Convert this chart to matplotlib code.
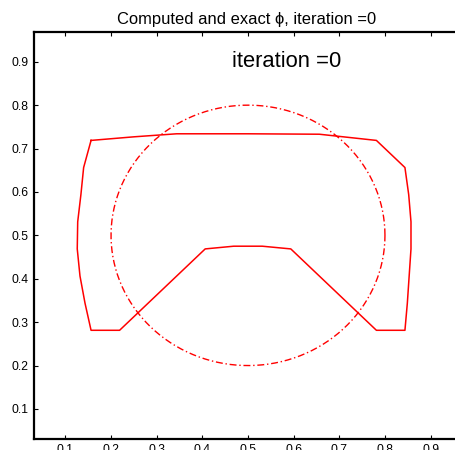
import numpy as np
import matplotlib
matplotlib.use("Agg")
import matplotlib.pyplot as plt

plt.rcParams['font.family'] = ['Liberation Sans', 'DejaVu Sans']

# Computed interface (closed polygon)
comp_x = [0.15625, 0.25, 0.34375, 0.50, 0.65625, 0.78125,
          0.84375, 0.852, 0.857, 0.857, 0.853, 0.849, 0.84375,
          0.78125, 0.59375, 0.53125, 0.46875, 0.40625, 0.21875,
          0.15625, 0.143, 0.132, 0.126, 0.127, 0.134, 0.140, 0.15625]
comp_y = [0.71875, 0.727, 0.734, 0.734, 0.733, 0.71875,
          0.65625, 0.59375, 0.53125, 0.46875, 0.40625, 0.34375, 0.28125,
          0.28125, 0.46875, 0.475, 0.475, 0.46875, 0.28125,
          0.28125, 0.34375, 0.40625, 0.46875, 0.53125, 0.59375, 0.65625, 0.71875]

# Exact interface: circle
circle_center = (0.5, 0.5)
circle_radius = 0.3

title_text = "Computed and exact \u03d5, iteration =0"
label_text = "iteration =0"
ticks = [0.1, 0.2, 0.3, 0.4, 0.5, 0.6, 0.7, 0.8, 0.9]
lims = (1/32, 31/32)

fig = plt.figure(figsize=(4.55, 4.5), dpi=100)
ax = fig.add_axes([0.0747, 0.0249, 0.9407, 0.9042])

th = np.linspace(0, 2*np.pi, 400)
ax.plot(circle_center[0] + circle_radius*np.cos(th),
        circle_center[1] + circle_radius*np.sin(th),
        color='red', lw=1.0, linestyle=(0, (5, 2, 1, 2)))
ax.plot(comp_x, comp_y, color='red', lw=1.1)

ax.set_xlim(*lims)
ax.set_ylim(*lims)
ax.set_xticks(ticks)
ax.set_yticks(ticks)
ax.set_xticklabels([f"{t:.1f}" for t in ticks])
ax.set_yticklabels([f"{t:.1f}" for t in ticks])
ax.tick_params(direction='in', length=3, width=0.8, labelsize=8.7,
               top=True, right=True, pad=4)
for s in ax.spines.values():
    s.set_linewidth(1.6)

ax.text(0.465, 0.90, label_text, fontsize=15.8, ha='left', va='center')
ax.set_title(title_text, fontsize=11.9, pad=6, x=0.497)

fig.savefig("out.png", dpi=100)
